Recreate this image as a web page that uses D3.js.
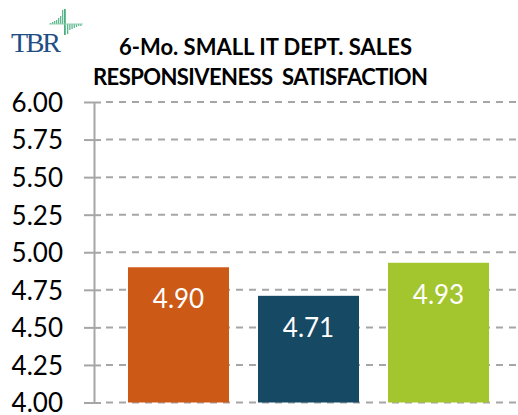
<!DOCTYPE html>
<html>
<head>
<meta charset="utf-8">
<script src="https://cdn.jsdelivr.net/npm/d3@7"></script>
<style>
  body { margin: 0; background: #fff; }
  svg { display: block; }
</style>
</head>
<body>
<div id="chart"></div>
<script>
var categories = ['A', 'B', 'C'];
var values = [4.90, 4.71, 4.93];
var barColors = ['#CD5916', '#164963', '#A3C52D'];
var yTicks = [4.00, 4.25, 4.50, 4.75, 5.00, 5.25, 5.50, 5.75, 6.00];
var titleLines = ['6-Mo. SMALL IT DEPT. SALES', 'RESPONSIVENESS  SATISFACTION'];

var width = 518, height = 415;
var margin = {left: 94, top: 102, bottom: 13};

var svg = d3.select('#chart')
    .append('svg')
        .attr('width', width)
        .attr('height', height);

// logo
var logo = svg.append('g').attr('class', 'logo');
logo.append('text')
    .attr('x', 11)
    .attr('y', 52)
    .attr('font-family', 'Liberation Serif, serif')
    .attr('font-size', 28)
    .attr('fill', '#1F4E85')
    .attr('textLength', 50)
    .text('TBR');

var spikeL = [1, 2, 3, 4, 6, 8, 14];
var spikeR = [10, 6, 5, 4, 3, 2, 2];
logo.selectAll('.sl').data(spikeL).enter().append('rect')
    .attr('x', function(d, i) { return 50 + i * 2; })
    .attr('y', function(d) { return 24 - d; })
    .attr('width', 1.3)
    .attr('height', function(d) { return d; })
    .attr('fill', '#5DB88E');
logo.append('rect').attr('x', 64).attr('y', 9).attr('width', 1.8).attr('height', 26).attr('fill', '#4DAE82');
logo.selectAll('.sr').data(spikeR).enter().append('rect')
    .attr('x', function(d, i) { return 67 + i * 2.2; })
    .attr('y', 24)
    .attr('width', 1.3)
    .attr('height', function(d) { return d; })
    .attr('fill', '#5DB88E');
logo.append('rect').attr('x', 49).attr('y', 23.5).attr('width', 34).attr('height', 1).attr('fill', '#8FD0B0');

// title
var titleSpan = [[119, 293], [93, 335]];
svg.append('g')
    .selectAll('text')
    .data(titleLines)
    .enter().append('text')
        .attr('x', function(d, i) { return titleSpan[i][0]; })
        .attr('y', function(d, i) { return 55 + i * 29.5; })
        .attr('font-family', 'Lato, sans-serif')
        .attr('font-weight', 'bold')
        .attr('font-size', 22)
        .attr('fill', '#000')
        .attr('textLength', function(d, i) { return titleSpan[i][1]; })
        .attr('lengthAdjust', 'spacing')
        .style('white-space', 'pre')
        .text(function(d) { return d; });

var y = d3.scaleLinear()
    .domain([4, 6])
    .range([402.5, margin.top]);

var x = d3.scaleBand()
    .domain(categories)
    .range([margin.left, 523])
    .paddingInner(0.223)
    .paddingOuter(0.2615);

// grid
svg.append('g')
    .attr('class', 'grid')
    .selectAll('line')
    .data(yTicks)
    .enter().append('line')
        .attr('x1', margin.left + 12)
        .attr('x2', width)
        .attr('y1', function(d) { return y(d); })
        .attr('y2', function(d) { return y(d); })
        .attr('stroke', '#A6A6A6')
        .attr('stroke-width', 2)
        .attr('stroke-dasharray', '7,6');

// bars
svg.append('g')
    .selectAll('rect')
    .data(values)
    .enter().append('rect')
        .attr('x', function(d, i) { return x(categories[i]); })
        .attr('y', function(d) { return y(d); })
        .attr('width', x.bandwidth())
        .attr('height', function(d) { return y(4) - y(d); })
        .attr('fill', function(d, i) { return barColors[i]; });

// bar labels
svg.append('g')
    .selectAll('text')
    .data(values)
    .enter().append('text')
        .attr('x', function(d, i) { return x(categories[i]) + x.bandwidth() / 2; })
        .attr('y', function(d) { return y(d) + 41; })
        .attr('text-anchor', 'middle')
        .attr('font-family', 'Lato, sans-serif')
        .attr('font-size', 26)
        .attr('fill', '#fff')
        .text(function(d) { return d.toFixed(2); });

// y axis
var axisY = d3.axisLeft(y)
    .tickValues(yTicks)
    .tickSize(0)
    .tickPadding(31)
    .tickFormat(d3.format('.2f'));
var $y = svg.append('g')
    .attr('class', 'y axis')
    .attr('transform', 'translate(' + margin.left + ',0)')
    .call(axisY);
$y.select('.domain')
    .attr('stroke', '#A6A6A6')
    .attr('stroke-width', 2);
$y.selectAll('.tick').append('line')
    .attr('x1', -10).attr('x2', 7)
    .attr('stroke', '#A6A6A6')
    .attr('stroke-width', 2);
$y.selectAll('.tick text')
    .attr('font-family', 'Lato, sans-serif')
    .attr('font-size', 26)
    .attr('fill', '#000')
    .attr('dy', '0.36em');
</script>
</body>
</html>
